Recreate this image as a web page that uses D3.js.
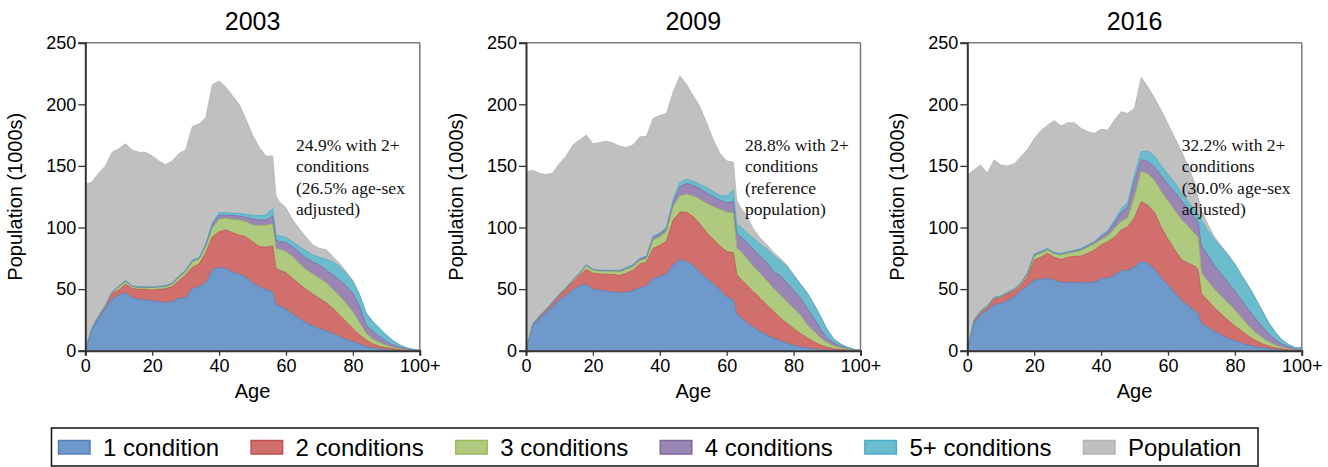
<!DOCTYPE html>
<html>
<head>
<meta charset="utf-8">
<script src="https://cdn.jsdelivr.net/npm/d3@7"></script>
<style>
  body { margin: 0; background: #fff; }
  svg { display: block; font-family: "Liberation Sans", Arial, Helvetica, sans-serif; }
</style>
</head>
<body>
<script>
// ages (x), population and number of people by count of conditions, in 1000s
const ages2003 = [0,2,4,6,8,10,12,14,16,18,20,22,24,26,28,30,32,34,36,38,40,42,44,46,48,50,52,54,56,57,
  58,60,62,64,66,68,70,72,74,76,78,80,82,84,86,88,90,92,94,96,98,100]
const pop2003 = [135,137,144,150,161,164,168,163,161,161,158,154,151,154,160,163,182,184,189,216,219,214,207,200,188,175,165,158,158,126,
  121,116,106,99,92,86,83,82,76.5,71,64,57,45.6,30.6,23.7,18.2,12.8,8.2,4.7,2.5,1.1,0.5]
const one2003 = [0,17,26,34,41.7,45,47,43,41.7,41,40.6,39.5,39.2,39.8,42.5,43,50.6,52,55,65.5,67.6,66.8,64,62.2,60,55,52,49.5,48,37,
  36.3,33.6,29.8,26.2,22.7,20,17.9,16,14,11.4,9.2,7.3,5.4,3.2,1.9,1.4,0.8,0.5,0.3,0.15,0.05,0]
const two2003 = [0,1,1.6,2,4.8,4.2,7,7.6,8.1,8.8,8.6,10.3,11.1,12.2,14.3,18.4,17,18.3,24.5,27,29,31.2,31.8,31.7,32.5,33.5,32.5,34.5,37,30,
  29.2,29.7,28.9,27.9,27.1,26,24.6,23,20.4,17.6,14.3,10.7,7.3,5.5,3.5,2.1,1.6,1.1,0.8,0.35,0.15,0.05]
const three2003 = [0,0.3,0.4,0.4,0.8,2.3,2,1.4,1.5,1.5,1.8,1.8,1.7,2,2.7,2.6,4.6,3.7,4.9,6.8,10,9.4,10.8,12.1,12.2,13.5,17,17.7,18,16,
  16.8,17.1,17.6,16.8,16.2,16.2,16.2,16.2,15.4,15.4,14.9,13.7,10,5.3,3.8,3,1.9,1.1,0.5,0.3,0.2,0.1]
const four2003 = [0,0.1,0.1,0.1,0.2,0.5,0.5,0.3,0.3,0.3,0.4,0.4,0.5,0.5,0.8,0.8,0.8,1,1.4,3.5,3.4,2.6,3.2,3.3,3.5,5,4.5,4.3,6,7,
  6.2,7.3,8.1,8.7,9,10,10.8,10.3,11.6,13,14.1,14.8,13,6.8,6.2,4.9,3,1.9,1.1,0.6,0.2,0.15]
const five2003 = [0,0.1,0.1,0.1,0.2,0.5,0.5,0.3,0.4,0.4,0.4,0.4,0.4,0.5,0.6,0.7,0.6,0.5,0.8,1.1,2,2,1.7,2.2,2.5,3,3.5,4,6.5,4,
  4.5,4.3,4.1,4.8,6.2,5.5,6.3,8.6,10.8,10.8,10.3,9.5,9.5,9.5,8.1,6.6,5.4,3.5,1.9,1,0.5,0.2]

const ages2009 = [0,2,4,6,8,10,12,14,16,18,20,22,24,26,28,30,32,34,36,38,40,42,44,46,48,50,52,54,56,58,60,62,63,
  64,66,68,70,72,74,76,78,80,82,84,86,88,90,92,94,96,98,100]
const pop2009 = [145,146.5,144,143,144,152,158,167,171,175,168,169,170,168.5,166,165,167,173.5,174,188.5,191,192.5,210,223,216,207,198,185,171,160,154,153,122,
  117,109,99,91.5,86,80,75,69.5,62,54.5,47.5,38.5,28.5,17.5,9.8,5.7,2.9,1.2,0.5]
const one2009 = [0,20,26,31,36,41.5,45,49.5,52.5,54,49.8,49.2,48.4,47.6,47,47.5,48.5,51.4,52.3,58.7,60,62.5,69.5,74,72.5,69,64,58.5,54.5,49,43.8,41,29.5,
  27.6,22.7,18.9,15.4,12.7,10,8.1,6,4.3,3.2,2.2,1.4,0.8,0.5,0.3,0.2,0.1,0.05,0]
const two2009 = [0,1,1.5,2,3,3.5,5,6.5,8.5,12,13.2,13,13.6,14.4,14,15.3,16.7,19,19.5,24.3,25.5,26.5,36.5,38.5,39.8,39.8,38.8,37.5,36,36,36.7,38.5,32.5,
  31.1,30.6,29,27.1,24.3,22,18.4,16.2,13.7,10.8,8.4,5.9,3.8,2.2,1.3,0.9,0.5,0.25,0.1]
const three2009 = [0,0.3,0.3,0.4,0.5,0.6,0.8,1,1.5,3,2.5,2.3,2.5,2.5,3,3.2,3,2.6,2.7,6.8,7,7.6,11,13.1,14.7,16.8,20,23.6,26.5,29.7,32.1,32,21,
  22.5,21.7,20.3,20.3,19.8,18.6,18.7,17.6,16.4,15,10.4,8.7,5.9,3.8,2.2,1.3,0.8,0.3,0.1]
const four2009 = [0,0.1,0.1,0.1,0.1,0.2,0.2,0.3,0.3,0.5,0.5,0.5,0.5,0.5,0.8,1,1.3,1.5,1.5,2.2,2,2.4,3,7.4,8.8,8.4,8.7,8.4,8,7.3,7.4,9.5,12,
  11.8,13,13.8,13.7,14.7,13.4,15.8,15.2,14.6,14,13.5,11,7,4,2.4,1.4,0.6,0.2,0.1]
const five2009 = [0,0.1,0.1,0.1,0.1,0.2,0.2,0.3,0.4,0.5,0.3,0.3,0.3,0.3,0.4,0.5,0.5,0.5,1,1,1,1.5,3,3.5,3.2,3.5,3.5,4.5,4,4,5.6,9.4,7,
  8,8,9,10,11,13,12,13,12,11,12.5,11,10.5,6.5,3.3,1.7,0.8,0.4,0.2]

const ages2016 = [0,2,4,6,8,10,12,14,16,18,20,22,24,26,28,30,32,34,36,38,40,42,44,46,48,50,52,54,56,58,60,62,64,66,68,69,
  70,72,74,76,78,80,82,84,86,88,90,92,94,96,98,100]
const pop2016 = [142.5,146.6,150.7,144,155,150.7,150,151.5,157.5,163.4,172,178.6,183,186.7,182.4,185,185,180.5,177.8,176.4,179.7,179,187.2,194,192.6,197,222,214,205,195,184,173,162,150,136,124,
  114,102,92,85,78,70.5,61.5,53,43.5,33.5,23.5,15.5,9,5.2,2.6,2.6]
const one2016 = [0,22,29,33,37,38.4,40.6,43.8,48.7,52.5,57.4,57.9,58.7,57.4,55.2,55.7,55.2,55.2,55.2,55.5,58.7,58.7,61.4,65,65,68,72.5,71,66,59,53.5,47,41,36.5,32.5,30,
  22,19,15.5,12.5,10,8,6,4.6,3.3,2.3,1.6,1,0.5,0.3,0.1,0.05]
const two2016 = [0,1.5,2,2,5,4.6,5.4,4.7,4.3,7.5,16.2,17.9,20.3,18.4,18.8,20.1,21.3,21.6,23.8,26.2,27.1,29.8,30.6,33,35.6,40,48.5,47,46,41,37,35,33,34.5,36,36,
  24,21.5,19,17,14.5,12,10,7.4,5.2,3.5,2.2,1.4,1,0.5,0.2,0.05]
const three2016 = [0,0.8,0.8,0.8,0.8,0.8,0.8,1,1.2,2,3.2,3.2,2.7,2.7,3.6,3.2,3.5,4.4,5,4.9,4.2,4.5,7,7,7.4,17,24.5,25.5,26,29,31,32,32.5,30,26.5,26,
  17,15.5,15,14.5,14,13,11,8.5,6.5,5.2,3.5,2.1,1.2,0.7,0.3,0.2]
const four2016 = [0,0.3,0.3,0.3,0.3,0.3,0.3,0.3,0.4,0.8,1.2,1,0.8,0.7,0.8,0.8,1,1.1,1.2,1.2,2.5,3,5,7,9,13,9.5,10,11,13,13.5,15,15.5,14,13,12,
  22,21,19,18,16.5,15.5,14,13,11.5,9,6.7,4.5,2.8,1.5,0.6,0.5]
const five2016 = [0,0.3,0.3,0.3,0.3,0.3,0.3,0.3,0.4,0.5,0.5,0.8,0.5,0.5,0.6,0.6,0.6,0.7,0.8,0.7,1.5,1.5,2,3,4,5,6.5,8.5,9,8,8,7.5,6,6,6,6,
  21,20,21.5,21.5,22,21.5,20,19,16.5,13,9,6,3.2,2,1.3,1.7]

const years = ['2003', '2009', '2016']
const notes = [
  ['24.9% with 2+', 'conditions', '(26.5% age-sex', 'adjusted)'],
  ['28.8% with 2+', 'conditions', '(reference', 'population)'],
  ['32.2% with 2+', 'conditions', '(30.0% age-sex', 'adjusted)']
]
const noteAge = [63, 65.5, 64.1]
const keys = ['one', 'two', 'three', 'four', 'five']
const legendLabels = ['1 condition', '2 conditions', '3 conditions', '4 conditions', '5+ conditions', 'Population']
const xTicks = [0, 20, 40, 60, 80, 100]
const yTicks = [0, 50, 100, 150, 200, 250]

const fills = ['#7099cb', '#d06f6c', '#afc97f', '#9a86b5', '#6bbccd', '#c0c0c0']
const strokes = ['#4f81bd', '#c0504d', '#9bbb59', '#8064a2', '#4bacc6', '#b3b3b3']

const panels = [
  {ages: ages2003, pop: pop2003, series: [one2003, two2003, three2003, four2003, five2003]},
  {ages: ages2009, pop: pop2009, series: [one2009, two2009, three2009, four2009, five2009]},
  {ages: ages2016, pop: pop2016, series: [one2016, two2016, three2016, four2016, five2016]}
]

const svg = d3.select('body').append('svg')
  .attr('width', 1328)
  .attr('height', 467)

const lefts = [85.3, 526, 967.3]
const largura = 334.5
const topo = 42.7
const base = 350.7

const y = d3.scaleLinear().domain([0, 250]).range([base, topo])

panels.forEach(function (p, k) {
  const x = d3.scaleLinear().domain([0, 100]).range([lefts[k], lefts[k] + largura])
  const g = svg.append('g')

  const rows = p.ages.map(function (a, i) {
    const r = {age: a, pop: p.pop[i]}
    keys.forEach(function (key, j) { r[key] = p.series[j][i] })
    return r
  })

  // population behind everything
  g.append('path')
    .attr('d', d3.area().x(d => x(d.age)).y0(y(0)).y1(d => y(d.pop))(rows))
    .attr('fill', fills[5])
  g.append('path')
    .attr('d', d3.line().x(d => x(d.age)).y(d => y(d.pop))(rows))
    .attr('fill', 'none')
    .attr('stroke', strokes[5])
    .attr('stroke-width', 0.8)

  const stacked = d3.stack().keys(keys)(rows)

  stacked.forEach(function (layer, j) {
    g.append('path')
      .attr('d', d3.area().x(d => x(d.data.age)).y0(d => y(d[0])).y1(d => y(d[1]))(layer))
      .attr('fill', fills[j])
  })
  stacked.forEach(function (layer, j) {
    g.append('path')
      .attr('d', d3.line().x(d => x(d.data.age)).y(d => y(d[1]))(layer))
      .attr('fill', 'none')
      .attr('stroke', strokes[j])
      .attr('stroke-width', 0.8)
  })

  // frame: grey top and right
  g.append('line')
    .attr('x1', x(0)).attr('x2', x(100)).attr('y1', topo).attr('y2', topo)
    .attr('stroke', '#7a7a7a').attr('stroke-width', 1.5)
  g.append('line')
    .attr('x1', x(100)).attr('x2', x(100)).attr('y1', topo).attr('y2', base)
    .attr('stroke', '#7a7a7a').attr('stroke-width', 1.5)

  const eixoBase = g.append('g')
    .attr('transform', 'translate(0,' + base + ')')
    .call(d3.axisBottom(x).tickValues(xTicks)
      .tickFormat(d => d === 100 ? '100+' : d)
      .tickSize(5).tickPadding(4))
  const eixoEsquerda = g.append('g')
    .attr('transform', 'translate(' + x(0) + ',0)')
    .call(d3.axisLeft(y).tickValues(yTicks).tickSize(7).tickPadding(2))

  ;[eixoBase, eixoEsquerda].forEach(function (ax) {
    ax.select('.domain').attr('stroke', '#333').attr('stroke-width', 2)
    ax.selectAll('.tick line').attr('stroke', '#333').attr('stroke-width', 1.3)
    ax.selectAll('.tick text')
      .attr('fill', '#000')
      .style('font-size', '18px')
      .style('font-family', '"Liberation Sans", Arial, sans-serif')
  })

  const meio = lefts[k] + largura / 2
  g.append('text')
    .attr('x', meio).attr('y', 30)
    .attr('text-anchor', 'middle')
    .style('font-size', '25px')
    .text(years[k])

  g.append('text')
    .attr('x', meio).attr('y', 398)
    .attr('text-anchor', 'middle')
    .style('font-size', '20px')
    .text('Age')

  g.append('text')
    .attr('transform', 'translate(' + (lefts[k] - 63) + ',' + ((topo + base) / 2) + ') rotate(-90)')
    .attr('text-anchor', 'middle')
    .style('font-size', '20px')
    .text('Population (1000s)')

  const nota = g.append('text')
    .attr('x', x(noteAge[k]))
    .attr('y', 150.7)
    .style('font-family', '"Liberation Serif", "Times New Roman", serif')
    .style('font-size', '17.5px')
    .attr('fill', '#111')
  nota.selectAll('tspan')
    .data(notes[k])
    .enter().append('tspan')
    .attr('x', x(noteAge[k]))
    .attr('dy', (d, i) => i === 0 ? 0 : 21.5)
    .text(d => d)
})

// legend
const legenda = svg.append('g')
legenda.append('rect')
  .attr('x', 51.5).attr('y', 428)
  .attr('width', 1206.5).attr('height', 38)
  .attr('fill', '#fff').attr('stroke', '#111').attr('stroke-width', 1.5)

let cursor = 58.5
legendLabels.forEach(function (label, i) {
  legenda.append('rect')
    .attr('x', cursor).attr('y', 440.5)
    .attr('width', 31.5).attr('height', 13.5)
    .attr('fill', fills[i]).attr('stroke', strokes[i]).attr('stroke-width', 1.5)
  const t = legenda.append('text')
    .attr('x', cursor + 44.5).attr('y', 455.5)
    .style('font-size', '24px')
    .text(label)
  cursor = cursor + 44.5 + t.node().getComputedTextLength() + 32
})
</script>
</body>
</html>
